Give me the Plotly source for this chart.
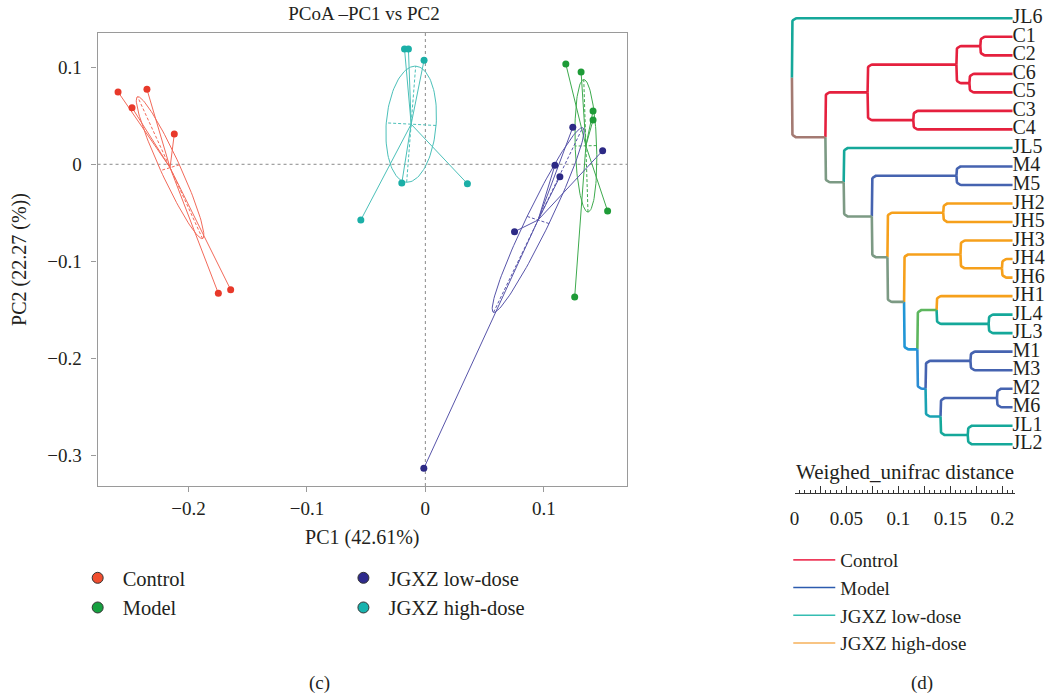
import numpy as np
import plotly.graph_objects as go

# ---------------- data: PCoA (panel c) ----------------
groups = ["Control", "Model", "JGXZ low-dose", "JGXZ high-dose"]
ctrl_x = [-0.2595, -0.2351, -0.2477, -0.2120, -0.1748, -0.1644]
ctrl_y = [0.0745, 0.0772, 0.0583, 0.0312, -0.1329, -0.1291]
model_x = [0.1186, 0.1315, 0.1416, 0.1416, 0.1539, 0.1261]
model_y = [0.1033, 0.0951, 0.0549, 0.0456, -0.0481, -0.1367]
low_x = [0.1245, 0.1497, 0.1094, 0.1136, 0.0753, -0.0013]
low_y = [0.0381, 0.0140, -0.0010, -0.0128, -0.0694, -0.3131]
high_x = [-0.0176, -0.0143, -0.0011, -0.0199, 0.0355, -0.0545]
high_y = [0.1187, 0.1187, 0.1071, -0.0193, -0.0200, -0.0574]
x_ticks = [-0.2, -0.1, 0, 0.1]
y_ticks = [0.1, 0, -0.1, -0.2, -0.3]

# ---------------- data: dendrogram (panel d) ----------------
dendro_leaves = ["JL6", "C1", "C2", "C6", "C5", "C3", "C4", "JL5", "M4", "M5",
                 "JH2", "JH5", "JH3", "JH4", "JH6", "JH1", "JL4", "JL3",
                 "M1", "M3", "M2", "M6", "JL1", "JL2"]
leaf_pos = 0.2098
# (node, left child, right child, position on the distance ruler)
dendro_nodes = [
    ("nC12", "C1", "C2", 0.1788),
    ("nC65", "C6", "C5", 0.1683),
    ("nC1265", "nC12", "nC65", 0.1558),
    ("nC34", "C3", "C4", 0.1143),
    ("nC", "nC1265", "nC34", 0.0703),
    ("nM45", "M4", "M5", 0.1558),
    ("nJH25", "JH2", "JH5", 0.1431),
    ("nJH46", "JH4", "JH6", 0.1996),
    ("nJH346", "JH3", "nJH46", 0.1597),
    ("nJL43", "JL4", "JL3", 0.1868),
    ("nI", "JH1", "nJL43", 0.1367),
    ("nM13", "M1", "M3", 0.1693),
    ("nM26", "M2", "M6", 0.1948),
    ("nJL12", "JL1", "JL2", 0.1667),
    ("nK", "nM26", "nJL12", 0.1405),
    ("nJ", "nM13", "nK", 0.1261),
    ("nH", "nI", "nJ", 0.1182),
    ("nG", "nJH346", "nH", 0.1054),
    ("nE", "nJH25", "nG", 0.0894),
    ("nD", "nM45", "nE", 0.0744),
    ("nB", "JL5", "nD", 0.0473),
    ("nA", "nC", "nB", 0.0297),
    ("root", "JL6", "nA", -0.0025),
]
ruler_ticks = [0, 0.025, 0.05, 0.075, 0.1, 0.125, 0.15, 0.175, 0.2]
ruler_text = ["0", "", "0.05", "", "0.1", "", "0.15", "", "0.2"]

# ---------------- styles ----------------
FONT = "Liberation Serif, 'Times New Roman', 'DejaVu Serif', serif"
TXT = "#231F20"
pt_col = {"Control": "#E8392A", "Model": "#1E9B37", "JGXZ low-dose": "#2C2985", "JGXZ high-dose": "#1BAFA7"}
ln_col = {"Control": "#F26A5A", "Model": "#3DAA4D", "JGXZ low-dose": "#5754A9", "JGXZ high-dose": "#4BC0B9"}
leg_col = {"Control": "#F04E2F", "Model": "#16A040", "JGXZ low-dose": "#2E2A8C", "JGXZ high-dose": "#18B3AE"}
tree_col = {"C": "#E5203E", "M": "#4563B0", "JL": "#15A89A", "JH": "#F6A01B"}
mixed_col = {"nA": "#A47A72", "nB": "#7C9A84", "nD": "#7C9A84", "nE": "#7C9A84",
             "nG": "#7C9A84", "nH": "#2196D6", "nJ": "#2B8CD3", "nK": "#1AA3B3",
             "nI": "#5DB65E", "root": "#7C9A84"}
leg2_col = {"Control": "#EE3B5B", "Model": "#2C5BAE", "JGXZ low-dose": "#35BDB2", "JGXZ high-dose": "#F6B05A"}
ELL_K = 0.8

fig = go.Figure()

# ---------------- panel c ----------------
data = {"Control": (ctrl_x, ctrl_y), "Model": (model_x, model_y),
        "JGXZ low-dose": (low_x, low_y), "JGXZ high-dose": (high_x, high_y)}
for g in groups:
    x = np.array(data[g][0]); y = np.array(data[g][1])
    cx, cy = x.mean(), y.mean()
    sx, sy = [], []
    for xi, yi in zip(x, y):
        sx += [cx, xi, None]; sy += [cy, yi, None]
    fig.add_trace(go.Scatter(x=sx, y=sy, mode="lines", line=dict(color=ln_col[g], width=1),
                             showlegend=False, hoverinfo="skip"))
    cov = np.cov(np.vstack([x, y]), bias=True)
    vals, vecs = np.linalg.eigh(cov)
    t = np.linspace(0, 2 * np.pi, 120)
    circ = np.vstack([np.cos(t), np.sin(t)]) * np.sqrt(vals)[:, None] * ELL_K
    ell = vecs @ circ
    fig.add_trace(go.Scatter(x=cx + ell[0], y=cy + ell[1], mode="lines",
                             line=dict(color=ln_col[g], width=1), showlegend=False, hoverinfo="skip"))
    ax, ay = [], []
    for i in range(2):
        v = vecs[:, i] * np.sqrt(vals[i]) * ELL_K
        ax += [cx - v[0], cx + v[0], None]; ay += [cy - v[1], cy + v[1], None]
    fig.add_trace(go.Scatter(x=ax, y=ay, mode="lines",
                             line=dict(color=ln_col[g], width=1, dash="3px,2px"),
                             showlegend=False, hoverinfo="skip"))
    fig.add_trace(go.Scatter(x=x, y=y, mode="markers", marker=dict(color=pt_col[g], size=7),
                             showlegend=False, name=g))

# legend entries for panel c: two columns, two legends
for g, lg in [("Control", "legend"), ("Model", "legend"),
              ("JGXZ low-dose", "legend3"), ("JGXZ high-dose", "legend3")]:
    fig.add_trace(go.Scatter(x=[None], y=[None], mode="markers", name=g, legend=lg,
                             marker=dict(color=leg_col[g], size=11, line=dict(color="#333333", width=1))))

# ---------------- panel d: dendrogram ----------------
def grp(name):
    if name.startswith("JL"):
        return "JL"
    if name.startswith("JH"):
        return "JH"
    return name[0]

ypos = {n: i for i, n in enumerate(dendro_leaves)}
xpos = {n: leaf_pos for n in dendro_leaves}
members = {n: {grp(n)} for n in dendro_leaves}
for name, l, r, p in dendro_nodes:
    ypos[name] = (ypos[l] + ypos[r]) / 2
    xpos[name] = p
    members[name] = members[l] | members[r]

def colour(n):
    m = members[n]
    if len(m) == 1:
        return tree_col[next(iter(m))]
    return mixed_col[n]

PXX = 1044.0   # px per distance unit
PXY = 18.52    # px per leaf
R = 5.0
rx, ry = R / PXX, R / PXY
th = np.linspace(0, np.pi / 2, 8)
for name, l, r, p in dendro_nodes:
    for c in (l, r):
        xp, yp = xpos[name], ypos[name]
        xc, yc = xpos[c], ypos[c]
        s = 1 if yc > yp else -1
        px = [xp, xp] + list(xp + rx - rx * np.cos(th)) + [xc]
        py = [yp, yc - s * ry] + list(yc - s * ry + s * ry * np.sin(th)) + [yc]
        fig.add_trace(go.Scatter(x=px, y=py, mode="lines", xaxis="x2", yaxis="y2",
                                 line=dict(color=colour(c), width=2.6),
                                 showlegend=False, hoverinfo="skip"))

fig.add_trace(go.Scatter(x=[leaf_pos] * len(dendro_leaves), y=[ypos[n] for n in dendro_leaves],
                         text=dendro_leaves, mode="text", textposition="middle right",
                         textfont=dict(family=FONT, size=20, color=TXT), cliponaxis=False,
                         xaxis="x2", yaxis="y2", showlegend=False, hoverinfo="skip"))

fig.add_trace(go.Scatter(x=[None], y=[None], xaxis="x3", yaxis="y3", showlegend=False))

for g in groups:
    fig.add_trace(go.Scatter(x=[None], y=[None], mode="lines", name=g, legend="legend2",
                             line=dict(color=leg2_col[g], width=1.6)))

W, H = 1054.0, 695.0
x2_lo = (780 - 793.3) / PXX
x2_hi = (W - 793.3) / PXX
y2_top = -18.3 / PXY
y2_bot = (H - 18.3) / PXY

leg_common = dict(orientation="v", xanchor="left", yanchor="top", font=dict(family=FONT, size=20.5, color=TXT),
                  itemwidth=40, bgcolor="rgba(0,0,0,0)", tracegroupgap=0)

fig.update_layout(
    width=1054, height=695, margin=dict(l=0, r=0, t=0, b=0),
    paper_bgcolor="white", plot_bgcolor="white",
    font=dict(family=FONT, color=TXT, size=19),
    title=dict(text="PCoA –PC1 vs PC2", x=364 / W, xanchor="center", y=1 - 13 / H, yanchor="middle",
               font=dict(family=FONT, size=19, color=TXT)),
    xaxis=dict(domain=[93 / W, 625 / W], range=[-0.2768, 0.1703], tickvals=x_ticks,
               ticks="outside", ticklen=5, tickcolor="#9A9A9A", showline=True, mirror=True,
               linecolor="#9A9A9A", linewidth=1.2, showgrid=False, zeroline=False,
               tickfont=dict(family=FONT, size=19),
               title=dict(text="PC1 (42.61%)", font=dict(family=FONT, size=20), standoff=12)),
    yaxis=dict(domain=[(H - 486) / H, (H - 33) / H], range=[-0.3313, 0.1352], tickvals=y_ticks,
               ticks="outside", ticklen=5, tickcolor="#9A9A9A", showline=True, mirror=True,
               linecolor="#9A9A9A", linewidth=1.2, showgrid=False, zeroline=False,
               tickfont=dict(family=FONT, size=19), ticklabelstandoff=6,
               title=dict(text="PC2 (22.27 (%))", font=dict(family=FONT, size=20), standoff=15)),
    xaxis2=dict(domain=[780 / W, 1.0], range=[x2_lo, x2_hi], visible=False, anchor="y2"),
    yaxis2=dict(domain=[0, 1], range=[y2_bot, y2_top], visible=False, anchor="x2"),
    xaxis3=dict(domain=[793.3 / W, (793.3 + PXX * 0.2119) / W], range=[0, 0.2119], anchor="free",
                position=(H - 493) / H, showline=True, linecolor="#333333", linewidth=1,
                ticks="inside", ticklen=7, tickcolor="#333333", tickvals=ruler_ticks, ticktext=ruler_text,
                minor=dict(ticks="inside", ticklen=3.5, dtick=0.005, tick0=0, tickcolor="#333333"),
                showgrid=False, zeroline=False, tickfont=dict(family=FONT, size=19), ticklabelstandoff=8),
    yaxis3=dict(domain=[0, 0.05], visible=False, anchor="x3"),
    legend=dict(x=68 / W, y=1 - 558 / H, **leg_common),
    legend3=dict(x=335 / W, y=1 - 558 / H, **leg_common),
    legend2=dict(x=787 / W, y=1 - 541 / H, **{**leg_common, "itemwidth": 42,
                                                 "font": dict(family=FONT, size=19, color=TXT)}),
    shapes=[
        dict(type="line", xref="x", yref="y domain", x0=0, x1=0, y0=0, y1=1, layer="below",
             line=dict(color="#8A8A8A", width=1, dash="dot")),
        dict(type="line", xref="x domain", yref="y", x0=0, x1=1, y0=0, y1=0, layer="below",
             line=dict(color="#8A8A8A", width=1, dash="dot")),
    ],
    annotations=[
        dict(text="(c)", x=316 / W, y=1 - 683 / H, xref="paper", yref="paper", showarrow=False,
             xanchor="center", yanchor="middle", font=dict(family=FONT, size=19, color=TXT)),
        dict(text="(d)", x=921 / W, y=1 - 683 / H, xref="paper", yref="paper", showarrow=False,
             xanchor="center", yanchor="middle", font=dict(family=FONT, size=19, color=TXT)),
        dict(text="Weighed_unifrac distance", x=904 / W, y=1 - 472 / H, xref="paper", yref="paper",
             showarrow=False, xanchor="center", yanchor="middle", font=dict(family=FONT, size=21, color=TXT)),
    ],
)

fig.write_html("out.html")
